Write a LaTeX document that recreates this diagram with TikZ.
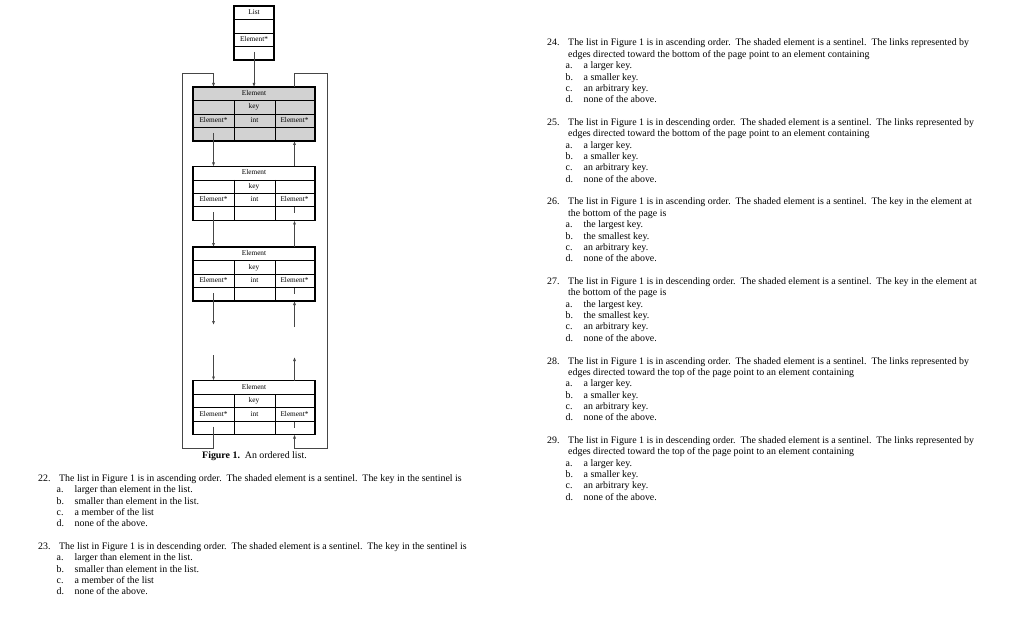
\documentclass[tikz,border=0pt]{standalone}
\usepackage{fontspec}
\setmainfont{Liberation Serif}
\usetikzlibrary{calc, arrows.meta}
\definecolor{cS}{RGB}{210,210,210}
\definecolor{cL}{RGB}{70,70,70}

\tikzset{
  elembox/.style={draw, line width=1.1pt, minimum width=122pt, minimum height=54pt, inner sep=0pt, outer sep=0pt},
  listbox/.style={draw, line width=1.1pt, minimum width=40pt, minimum height=54pt, inner sep=0pt, outer sep=0pt},
  celltext/.style={inner sep=0pt, text height=5pt, text depth=1.5pt, font=\fontsize{7.3}{8}\selectfont},
  rule/.style={line width=0.5pt},
  heavyrule/.style={line width=1pt},
  link/.style={draw=cL, line width=0.7pt, -{Latex[length=4pt,width=3pt]}},
  ring/.style={draw=cL, line width=0.7pt},
  question/.style={inner sep=0pt, anchor=base west, font=\fontsize{9.9}{11.35}\selectfont},
  caption/.style={inner sep=0pt, anchor=base, font=\fontsize{9.9}{11}\selectfont}
}

% one element of the list: name, top left corner, fill
\newcommand\listelem[3]{%
  \begin{scope}[shift={(#2)}]
    \node[elembox, fill=#3] (#1) at (61,27) {};
    \draw[rule] (0,13.5) -- (122,13.5) (0,27) -- (122,27)
                (41,13.5) -- (41,54) (82,13.5) -- (82,54);
    \draw[heavyrule] (0,40.5) -- (122,40.5);
    \node[celltext] (#1-name) at (61,6.75) {Element};
    \node[celltext] (#1-key) at (61,20.25) {key};
    \node[celltext] (#1-next) at (20.5,33.75) {Element*};
    \node[celltext] (#1-int) at (61.5,33.75) {int};
    \node[celltext] (#1-prev) at (101.5,33.75) {Element*};
    \coordinate (#1-nx) at (20.5,46);
    \coordinate (#1-pv) at (101.5,54);
    \coordinate (#1-in) at (20.5,0);
    \coordinate (#1-out) at (101.5,0);
  \end{scope}}

% one question: name, x, baseline, number, stem, a, b, c, d
\newcommand\opt[2]{\hspace*{-2.5pt}\makebox[18pt][l]{#1}#2}
\newcommand\mcq[9]{%
  \node[question] (#1) at (#2,#3) {%
    \begin{tabular}[t]{@{}p{21pt}@{}l@{}}
      #4 & #5\\
      & \opt{a.}{#6}\\
      & \opt{b.}{#7}\\
      & \opt{c.}{#8}\\
      & \opt{d.}{#9}
    \end{tabular}};}

\begin{document}
\begin{tikzpicture}[x=1pt, y=-1pt]
    \useasboundingbox[fill=white] (0,0) rectangle (1024,620);

    % The list header
    \node[listbox] (lst) at (254,33) {};
    \draw[rule] (234,19.5) -- (274,19.5) (234,33) -- (274,33);
    \draw[heavyrule] (234,46.5) -- (274,46.5);
    \node[celltext] (lst-title) at (254,13) {List};
    \node[celltext] (lst-head) at (254,40) {Element*};
    \coordinate (lst-hd) at (254,52);

    % Elements
    \listelem{sent}{193,87}{cS}
    \listelem{e2}{193,166.5}{white}
    \listelem{e3}{193,247}{white}
    \listelem{e4}{193,380.5}{white}

    % Free ends and corners
    \coordinate (gap-a) at (213.5,325);
    \coordinate (gap-b) at (294.5,327);
    \coordinate (gap-c) at (213.5,355);
    \coordinate (gap-d) at (294.5,357);
    \coordinate (sw) at (182,448);
    \coordinate (nw) at (182,73);
    \coordinate (ne) at (327,73);
    \coordinate (se) at (327,448);

    % Links
    \draw[link] (lst-hd) -- (sent.north);
    \draw[link] (sent-nx) -- (e2-in);
    \draw[link] (e2-out) -- (sent-pv);
    \draw[link] (e2-nx) -- (e3-in);
    \draw[link] (e3-out) -- (e2-pv);
    \draw[link] (e3-nx) -- (gap-a);
    \draw[link] (gap-b) -- (e3-pv);
    \draw[link] (gap-c) -- (e4-in);
    \draw[link] (e4-out) -- (gap-d);
    \draw[link] (e4-nx) |- (sw) -- (nw) -| (sent-in);
    \draw[link] (sent-out) |- (ne) -- (se) -| (e4-pv);
    \foreach \e in {e2,e3,e4}
      \draw[ring] ($(\e-pv)+(0,-13)$) -- ++(0,6);

    \node[caption] (cap) at (254.5,458) {\textbf{Figure 1.}\ \ An ordered list.};

    % Questions
    \mcq{q22}{38}{481.5}{22.}{The list in Figure 1 is in ascending order.\ \ The shaded element is a sentinel.\ \ The key in the sentinel is}
      {larger than element in the list.}{smaller than element in the list.}{a member of the list}{none of the above.}
    \mcq{q23}{38}{549.5}{23.}{The list in Figure 1 is in descending order.\ \ The shaded element is a sentinel.\ \ The key in the sentinel is}
      {larger than element in the list.}{smaller than element in the list.}{a member of the list}{none of the above.}
    \mcq{q24}{547}{46}{24.}{The list in Figure 1 is in ascending order.\ \ The shaded element is a sentinel.\ \ The links represented by\\ & edges directed toward the bottom of the page point to an element containing}
      {a larger key.}{a smaller key.}{an arbitrary key.}{none of the above.}
    \mcq{q25}{547}{125.5}{25.}{The list in Figure 1 is in descending order.\ \ The shaded element is a sentinel.\ \ The links represented by\\ & edges directed toward the bottom of the page point to an element containing}
      {a larger key.}{a smaller key.}{an arbitrary key.}{none of the above.}
    \mcq{q26}{547}{205}{26.}{The list in Figure 1 is in ascending order.\ \ The shaded element is a sentinel.\ \ The key in the element at\\ & the bottom of the page is}
      {the largest key.}{the smallest key.}{an arbitrary key.}{none of the above.}
    \mcq{q27}{547}{284.5}{27.}{The list in Figure 1 is in descending order.\ \ The shaded element is a sentinel.\ \ The key in the element at\\ & the bottom of the page is}
      {the largest key.}{the smallest key.}{an arbitrary key.}{none of the above.}
    \mcq{q28}{547}{364}{28.}{The list in Figure 1 is in ascending order.\ \ The shaded element is a sentinel.\ \ The links represented by\\ & edges directed toward the top of the page point to an element containing}
      {a larger key.}{a smaller key.}{an arbitrary key.}{none of the above.}
    \mcq{q29}{547}{443.5}{29.}{The list in Figure 1 is in descending order.\ \ The shaded element is a sentinel.\ \ The links represented by\\ & edges directed toward the top of the page point to an element containing}
      {a larger key.}{a smaller key.}{an arbitrary key.}{none of the above.}

\end{tikzpicture}
\end{document}
